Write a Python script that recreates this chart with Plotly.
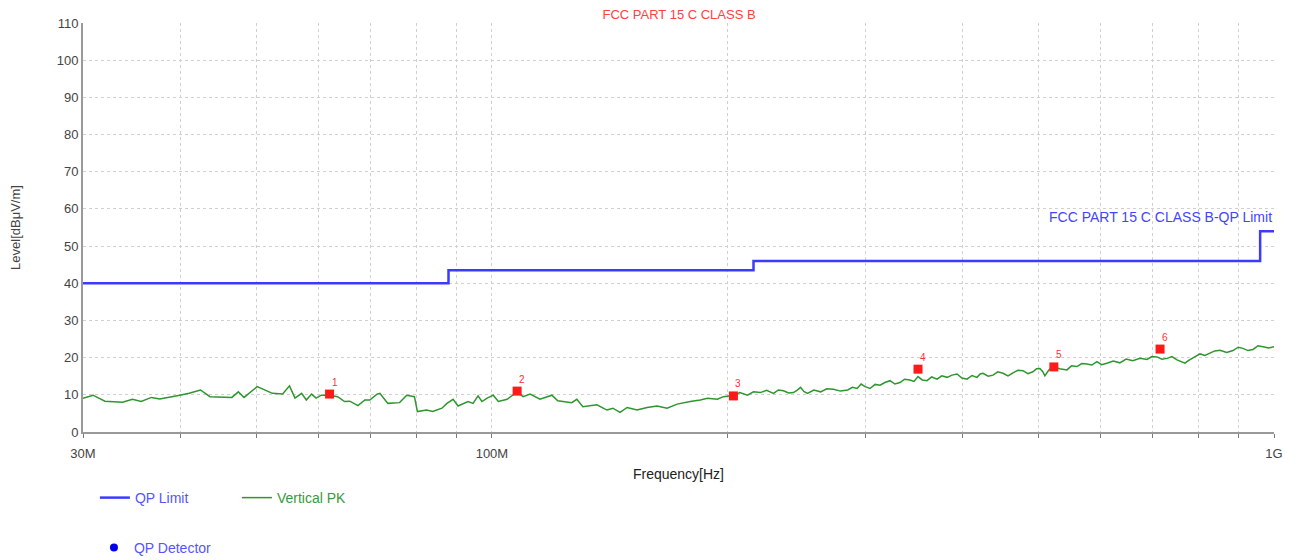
import math
import plotly.graph_objects as go

# ---- data ----
limit_freq = [30, 88, 88, 216, 216, 960, 960, 1000]
limit_level = [40, 40, 43.5, 43.5, 46, 46, 54, 54]

pk_freq = [30, 30.9, 32.0, 33.7, 34.7, 35.6, 36.7, 37.6, 39.9, 41.0, 42.4, 43.6, 46.5, 47.4, 48.2,
           50.1, 52.4, 54.0, 55.1, 56.0, 57.1, 57.9, 58.8, 59.6, 60.5, 62.0, 63.5, 64.8, 65.8, 67.4,
           68.8, 69.8, 71.3, 71.9, 73.6, 76.2, 77.8, 79.6, 80.3, 82.5, 84.0, 86.3, 87.6, 89.2, 90.5,
           93.2, 94.6, 96.0, 97.1, 98.6, 100.4, 101.9, 104.6, 107.7, 109.6, 111.9, 115.2, 119.3, 121.4,
           126.5, 128.4, 130.7, 136.2, 140.3, 142.8, 145.8, 148.9, 153.3, 157.9, 162.6, 167.5, 172.5,
           179.3, 184.7, 188.6, 194.2, 197.7,
           203.6, 207.5, 212.2, 216, 220.4, 224.5, 229.1, 232.5, 235.9, 239.5, 243.0, 245.5, 248.1,
           250.5, 253.2, 258, 263.2, 268, 273.4, 279, 285.0, 289, 293.1, 296.5, 300, 304.4, 309,
           313.5, 318, 322.9, 327.5, 332.5, 337, 342.4, 346.5, 350.6, 355, 360.0, 365, 370.8, 376,
           381.9, 387.5, 393.3, 399, 405.0, 411, 417.1, 421, 424.5, 431, 437.2, 443.5, 450.2, 457,
           463.7, 470.5, 477.5, 484.5, 491.7, 497, 502.0, 506, 509.4, 515, 521.6, 532, 543.5, 551,
           559.7, 568, 576.4, 585, 593.6, 602, 611.3, 623, 635.1, 647, 659.8, 674, 688.0, 698, 708.6,
           719, 729.8, 740.5, 751.6, 760, 769.5, 777, 785.6, 795, 804.2, 816, 828.3, 840, 853.0, 870,
           886.3, 900, 912.8, 926, 940.1, 954, 968.2, 984, 1000]
pk_level = [9.1, 9.9, 8.3, 8.0, 8.8, 8.2, 9.3, 8.9, 9.9, 10.4, 11.3, 9.5, 9.3, 10.8, 9.3,
            12.2, 10.4, 10.2, 12.4, 9.1, 10.4, 8.6, 10.2, 9.1, 9.9, 9.9, 9.5, 8.2, 8.3, 7.1,
            8.6, 8.6, 10.2, 10.4, 7.7, 7.9, 9.9, 9.5, 5.5, 5.9, 5.5, 6.4, 7.7, 8.8, 7.0,
            8.2, 7.7, 9.7, 8.2, 9.1, 9.9, 8.2, 8.8, 10.8, 9.5, 10.2, 8.8, 9.9, 8.4,
            7.9, 8.8, 6.8, 7.3, 5.9, 6.4, 5.3, 6.6, 5.9, 6.6, 7.0, 6.4, 7.5,
            8.2, 8.6, 9.1, 8.8, 9.5,
            9.8, 10.6, 9.9, 10.8, 10.6, 11.2, 10.4, 11.3, 11.1, 10.5, 10.6, 11.2, 12.0,
            10.9, 10.4, 11.3, 10.8, 11.6, 11.5, 11.0, 11.3, 12.0, 11.7, 12.9, 12.2, 11.7, 12.8,
            12.6, 13.3, 13.8, 12.9, 13.3, 14.2, 14.0, 13.6, 14.9, 14.0, 13.8, 14.8, 14.2, 15.1,
            14.7, 15.3, 15.6, 14.5, 14.2, 15.2, 14.7, 15.6, 15.8, 15.0, 15.3, 16.2, 15.8, 15.1,
            15.9, 16.6, 16.5, 15.7, 16.2, 17.0, 17.1, 16.3, 15.1, 16.6, 17.6, 17.0, 16.7, 17.8,
            17.6, 18.4, 18.3, 18.0, 18.9, 18.1, 18.5, 19.1, 18.6, 19.6, 19.2, 19.8, 19.5, 20.3, 20.2,
            19.6, 19.8, 20.3, 19.4, 18.9, 18.5, 19.2, 19.8, 20.5, 21.0, 20.6, 21.2, 21.8, 22.0, 21.4,
            21.9, 22.8, 22.5, 21.9, 22.2, 23.2, 22.9, 22.6, 22.9]

mk_freq = [62.0, 107.7, 203.6, 350.6, 523.0, 715.0]
mk_level = [10.2, 11.0, 9.7, 16.9, 17.5, 22.3]
mk_label = ["1", "2", "3", "4", "5", "6"]

grid_freq = [30, 40, 50, 60, 70, 80, 90, 100, 200, 300, 400, 500, 600, 700, 800, 900, 1000]
grid_text = ["30M", "", "", "", "", "", "", "100M", "", "", "", "", "", "", "", "", "1G"]
y_ticks = list(range(0, 111, 10))

FONT = "Liberation Sans, Arial, sans-serif"
BLUE = "#3b3bff"
GREEN = "#2e962e"

fig = go.Figure()
fig.add_trace(go.Scatter(x=limit_freq, y=limit_level, mode="lines",
                         line=dict(color=BLUE, width=2.5),
                         name="<span style='color:#5555ff'>QP Limit</span>", legend="legend"))
fig.add_trace(go.Scatter(x=pk_freq, y=pk_level, mode="lines",
                         line=dict(color=GREEN, width=1.5),
                         name="<span style='color:#3a9a3a'>Vertical PK</span>", legend="legend"))
fig.add_trace(go.Scatter(x=mk_freq, y=mk_level, mode="markers",
                         marker=dict(symbol="square", size=9, color="#ff1a1a"),
                         showlegend=False))
fig.add_trace(go.Scatter(x=[None], y=[None], mode="markers",
                         marker=dict(color="#0000ee", size=8),
                         name="<span style='color:#5555ff'>QP Detector</span>", legend="legend2"))

# marker number labels (annotation x on a log axis is given in log10 units)
for f, lv, lb in zip(mk_freq, mk_level, mk_label):
    fig.add_annotation(x=math.log10(f), y=lv, xref="x", yref="y", text=lb, showarrow=False,
                       xshift=5, yshift=12, font=dict(color="#ff3030", size=10, family=FONT))

fig.add_annotation(x=1, xref="paper", xanchor="right", y=57.8, yref="y", yanchor="middle",
                   text="FCC PART 15 C CLASS B-QP Limit", showarrow=False,
                   font=dict(color="#4444ff", size=14, family=FONT))

fig.update_layout(
    width=1290, height=552,
    margin=dict(l=75, r=24, t=15, b=128),
    paper_bgcolor="white", plot_bgcolor="white",
    font=dict(family=FONT, size=12, color="#444"),
    title=dict(text="FCC PART 15 C CLASS B", x=0.5202, xanchor="center",
               y=0.9964, yref="container", yanchor="top", pad=dict(t=0, b=0),
               font=dict(color="#ff4040", size=13, family=FONT)),
    legend=dict(orientation="h", x=0.01, xanchor="left", y=0.1123, yref="container",
                yanchor="middle", entrywidth=97, font=dict(size=14, family=FONT),
                bgcolor="rgba(0,0,0,0)"),
    legend2=dict(orientation="h", x=0.0092, xanchor="left", y=0.0217, yref="container",
                 yanchor="middle", font=dict(size=14, family=FONT), bgcolor="rgba(0,0,0,0)"),
)
fig.update_xaxes(type="log", range=[1.47712, 3.0], tickvals=grid_freq, ticktext=grid_text,
                 showgrid=True, gridcolor="#d0d0d0", griddash="dot", gridwidth=1,
                 ticks="outside", ticklen=4, tickcolor="#777", ticklabelstandoff=4,
                 showline=True, linecolor="#999", linewidth=2, zeroline=False, automargin=False,
                 tickfont=dict(size=13, color="#444"),
                 title=dict(text="Frequency[Hz]", font=dict(size=14, color="#222"), standoff=24))
fig.update_yaxes(range=[0, 110], tickvals=y_ticks, showgrid=True, gridcolor="#d0d0d0",
                 griddash="dot", gridwidth=1, showline=True, linecolor="#999", linewidth=2,
                 zeroline=False, ticks="", automargin=False, tickfont=dict(size=13, color="#444"),
                 title=dict(text="Level[dBμV/m]", font=dict(size=13, color="#444"), standoff=38))

fig.write_html("out.html")
